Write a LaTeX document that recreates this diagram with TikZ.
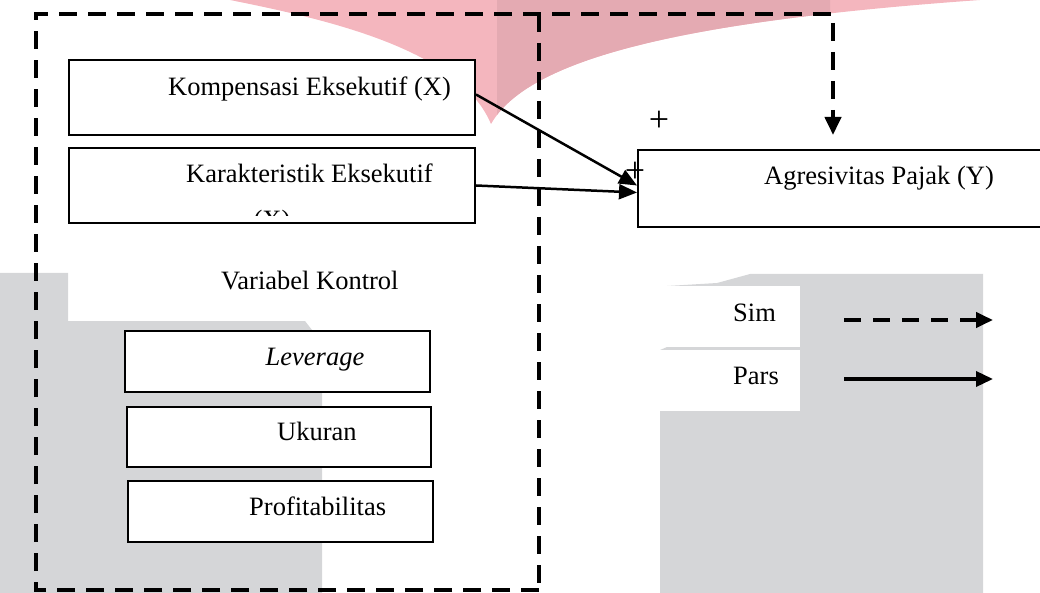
\documentclass[tikz,border=0pt]{standalone}
\usepackage{fontspec}
\setmainfont{Liberation Serif}
\usetikzlibrary{arrows.meta,calc}
\definecolor{wmpink}{RGB}{244,182,190}
\definecolor{wmmauve}{RGB}{228,170,178}
\definecolor{wmgray}{RGB}{213,214,216}
\tikzset{
  box/.style={draw=black, line width=2pt, fill=white, inner sep=0pt, rectangle},
  thinbox/.style={box, line width=1.5pt},
  txt/.style={anchor=base west, inner sep=0pt, font=\fontsize{26.5}{30}\selectfont},
  plus/.style={inner sep=0pt, font=\fontsize{36}{38}\selectfont},
  frame/.style={line width=4pt, dash pattern=on 18pt off 11pt},
  conn/.style={line width=2.5pt, -{Triangle[length=18pt,width=15pt]}},
}
\begin{document}
\begin{tikzpicture}[x=1pt,y=-1pt]
\useasboundingbox (0,0) rectangle (1040,593);
% watermark background
\fill[wmpink] (230,0) .. controls (330,20) and (460,50) .. (491,124)
  .. controls (530,55) and (700,20) .. (980,0) -- cycle;
\begin{scope}
  \clip (497,0) rectangle (830,130);
  \fill[wmmauve] (230,0) .. controls (330,20) and (460,50) .. (491,124)
    .. controls (530,55) and (700,20) .. (980,0) -- cycle;
\end{scope}
\fill[wmgray] (0,273) -- (68,273) -- (68,321) -- (305,321) -- (312,330)
  -- (322,393) -- (322,593) -- (0,593) -- cycle;
\fill[wmgray] (667,286) -- (717,283) -- (750,274) -- (983,274) -- (983,593)
  -- (660,593) -- (660,350) -- (667,347) -- cycle;
\fill[white] (667,286) rectangle (800,347);
\fill[white] (660,350) rectangle (800,411);
% dashed frame
\coordinate (simEnd) at (833,135);
\draw[frame, -{Triangle[length=18pt,width=16pt]}] (539,590) -- (36,590) -- (36,14) -- (833,14) -- (simEnd);
\draw[frame] (539,14) -- (539,590);
% boxes
\node[box, minimum width=406pt, minimum height=75pt] (komp) at (272,97.5) {};
\node[box, minimum width=406pt, minimum height=75pt] (kar) at (272,185.5) {};
\node[box, minimum width=408pt, minimum height=77pt] (agr) at (842,188.5) {};
\node[thinbox, minimum width=305pt, minimum height=61pt] (lev) at (277.5,361.5) {};
\node[thinbox, minimum width=304pt, minimum height=60pt] (uku) at (279,437) {};
\node[thinbox, minimum width=305pt, minimum height=61pt] (pro) at (280.5,511.5) {};
% texts
\node[txt] (kompT) at (168,96) {Kompensasi Eksekutif (X)};
\node[txt] (karT) at (186,183) {Karakteristik Eksekutif};
\begin{scope}
  \clip (70,149) rectangle (474,216);
  \node[txt, anchor=base] (karX) at (272,229) {(X)};
\end{scope}
\node[txt] (agrT) at (764,185) {Agresivitas Pajak (Y)};
\node[txt] (vk) at (221,290) {Variabel Kontrol};
\node[txt] (levT) at (265.5,365) {\itshape Leverage};
\node[txt] (ukuT) at (277,440) {Ukuran};
\node[txt] (proT) at (249,515) {Profitabilitas};
\node[txt] (sim) at (733,321) {Sim};
\node[txt] (pars) at (733,384) {Pars};
\node[plus] (p1) at (659,121) {+};
\node[plus] (p2) at (635,172) {+};
% connectors
\draw[conn] ($(komp.east)+(0,-3)$) -- ($(agr.west)+(0,-3)$);
\draw[conn] (kar.east) -- ($(agr.west)+(0,4)$);
% legend
\coordinate (simS) at (844,320);
\coordinate (simE) at (993,320);
\coordinate (parS) at (844,379);
\coordinate (parE) at (993,379);
\draw[line width=4pt, dash pattern=on 17pt off 12pt, -{Triangle[length=17pt,width=15pt]}] (simS) -- (simE);
\draw[line width=3.5pt, -{Triangle[length=17pt,width=15pt]}] (parS) -- (parE);
\end{tikzpicture}
\end{document}
